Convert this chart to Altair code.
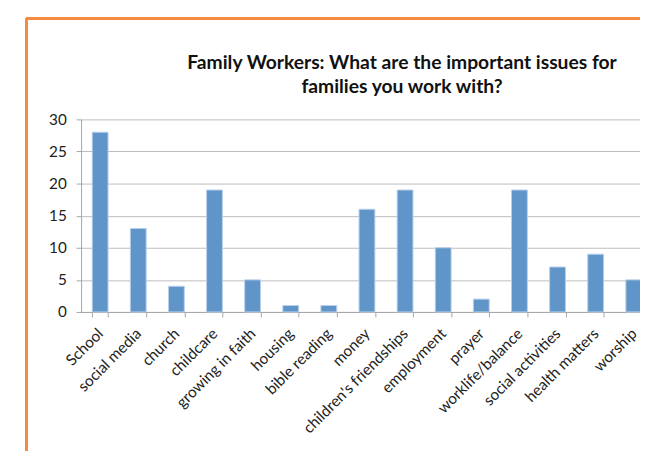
import altair as alt
import pandas as pd

categories = ["School", "social media", "church", "childcare", "growing in faith",
              "housing", "bible reading", "money", "children's friendships",
              "employment", "prayer", "worklife/balance", "social activities",
              "health matters", "worship"]
values = [28, 13, 4, 19, 5, 1, 1, 16, 19, 10, 2, 19, 7, 9, 5]
y_ticks = [0, 5, 10, 15, 20, 25, 30]
title_lines = ["Family Workers: What are the important issues for",
               "families you work with?"]

df = pd.DataFrame({"issue": categories, "count": values})

W = 566
H = 195
FULL = 579  # full band range; the chart is cropped on the right

bars = alt.Chart(df).mark_bar(
    color="#5F95C9", stroke="#B8CFEA", strokeWidth=1
).encode(
    x=alt.X("issue:N", sort=categories,
            scale=alt.Scale(range=[0, FULL], paddingInner=0.585, paddingOuter=0.2925),
            axis=alt.Axis(title=None, labelAngle=-45, labelAlign="right",
                          labelBaseline="middle", labelPadding=14, tickBand="extent",
                          tickSize=5, tickColor="#A6A6A6", domainColor="#A6A6A6",
                          labelFont="Lato", labelFontSize=15.5, labelColor="#222222",
                          labelOverlap=False, grid=False)),
    y=alt.Y("count:Q", scale=alt.Scale(domain=[0, 30], nice=False),
            axis=alt.Axis(title=None, values=y_ticks, grid=True, gridColor="#BDBDBD",
                          tickSize=5, tickColor="#A6A6A6", domainColor="#A6A6A6",
                          labelFont="Lato", labelFontSize=15.5, labelColor="#222222",
                          labelPadding=10))
)

frame_left = alt.Chart(df).mark_rule(color="#F58B40", strokeWidth=2.5).encode(
    x=alt.value(-55), y=alt.value(-102), y2=alt.value(400))
frame_top = alt.Chart(df).mark_rule(color="#F58B40", strokeWidth=2.5).encode(
    x=alt.value(-55), x2=alt.value(700), y=alt.value(-102))

title = alt.Chart(df).mark_text(
    font="Lato", fontSize=19.5, fontWeight="bold", color="#111111",
    align="center", baseline="alphabetic", lineHeight=24
).encode(
    x=alt.value(325), y=alt.value(-51), text=alt.value(title_lines)
).transform_filter("datum.issue == 'School'")

chart = alt.layer(frame_left, frame_top, bars, title).properties(
    width=W, height=H,
    autosize=alt.AutoSizeParams(type="none"),
    padding={"left": 74, "top": 110, "right": 0, "bottom": 138},
    background="white",
).configure_view(stroke=None)

chart.save("out.html", embed_options={"renderer": "svg", "actions": False})
